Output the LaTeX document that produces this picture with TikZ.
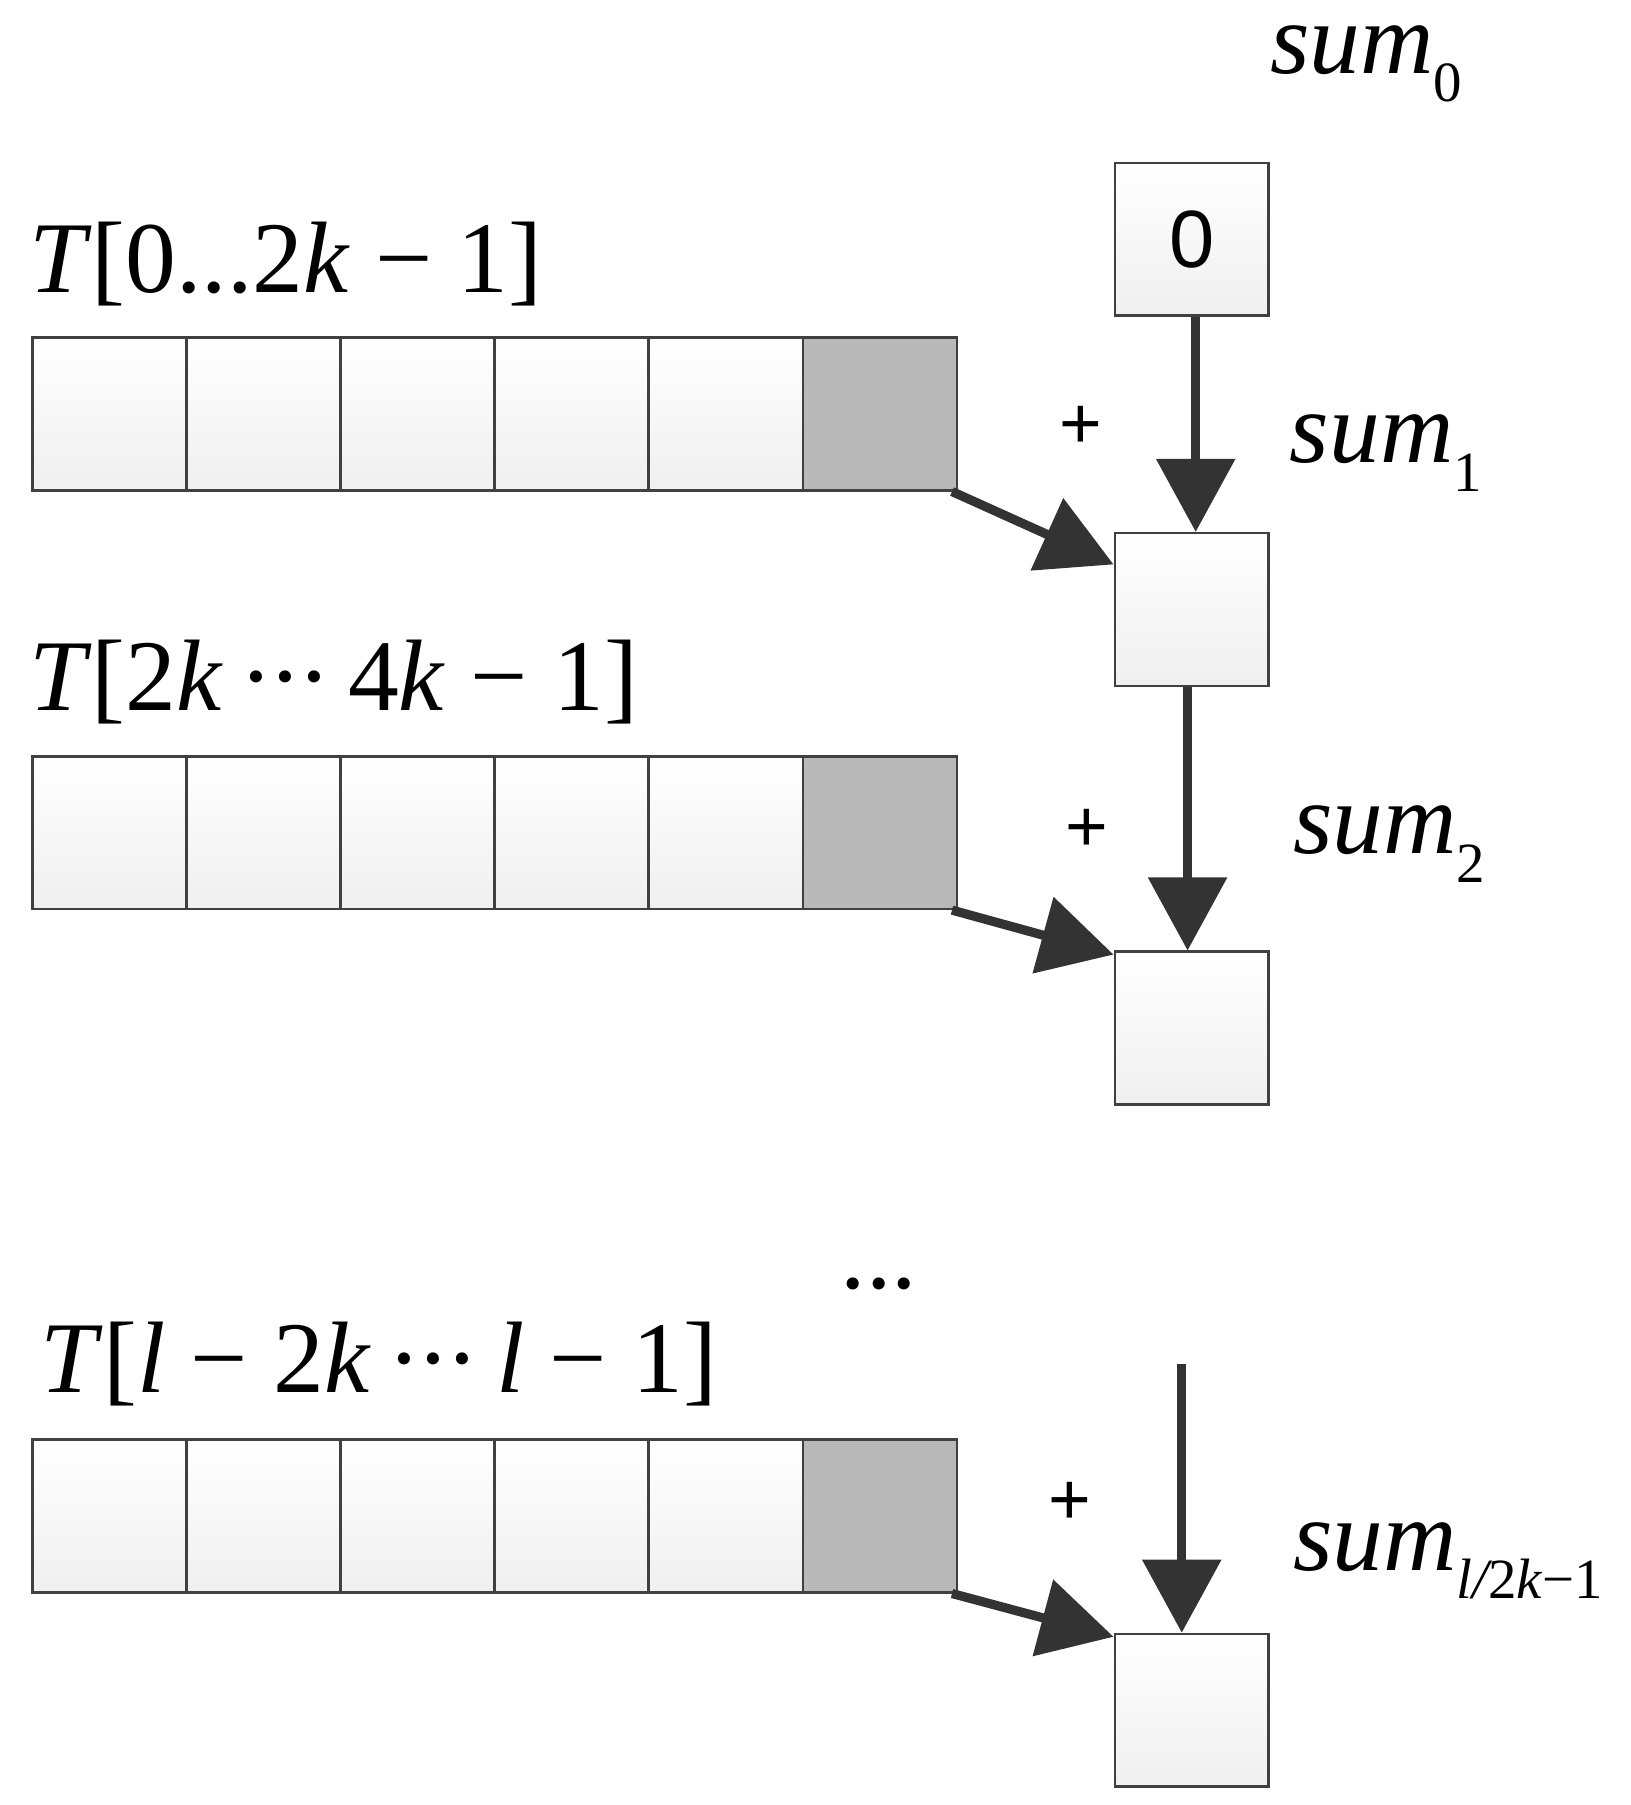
\documentclass[tikz,border=0pt]{standalone}
\usepackage{fontspec}
\setmainfont{Liberation Serif}
\newfontfamily\lsans{Liberation Sans}
\usetikzlibrary{arrows.meta}
\newcommand{\mysub}[1]{\raisebox{-0.28em}{\fontsize{28}{30}\selectfont #1}}
\begin{document}
\begin{tikzpicture}[x=0.02cm,y=-0.02cm,
  cell/.style={draw=black!75,line width=1.2pt,top color=white,bottom color=gray!12,minimum width=2.66cm,minimum height=2.64cm,inner sep=0pt,anchor=north west},
  gcell/.style={cell,top color=gray!55,bottom color=gray!55,fill=gray!55},
  arr/.style={draw=black!80,line width=4.5pt,-{Triangle[length=36pt,width=38pt]}},
  lab/.style={font=\fontsize{50}{56}\selectfont,inner sep=0pt},
  plus/.style={font=\fontsize{36}{40}\selectfont\lsans,inner sep=0pt}]
\useasboundingbox (0,0) rectangle (1410,1561);
% rows
\foreach \r/\y in {a/291,b/653,c/1244}{
  \foreach \i in {0,...,4}{\node[cell] (\r\i) at ({27+133.3*\i},\y) {};}
  \node[gcell] (\r5) at ({27+133.3*5},\y) {};
}
% right boxes
\node[cell] (s0) at (963,140) {\fontsize{40}{44}\selectfont\lsans 0};
\node[cell] (s1) at (963,460) {};
\node[cell] (s2) at (963,822) {};
\node[cell] (s3) at (963,1412) {};
\coordinate (f) at (1022,1180);
% arrows
\draw[arr] ([xshift=2pt]s0.south) -- ([xshift=2pt]s1.north);
\draw[arr] ([xshift=-2pt]s1.south) -- ([xshift=-2pt]s2.north);
\draw[arr] (f) -- (f|-s3.north);
\draw[arr] ([xshift=-3pt]a5.south east) -- ([yshift=-16pt]s1.north west);
\draw[arr] ([xshift=-3pt]b5.south east) -- ([yshift=-2pt]s2.north west);
\draw[arr] ([xshift=-3pt]c5.south east) -- ([yshift=-2pt]s3.north west);
% labels
\node[lab,anchor=west] (l0) at (1098,55) {\itshape sum\mysub{\upshape 0}};
\node[lab,anchor=west] (t1) at (25,228) {\textit{T}[0...2\textit{k} − 1]};
\node[plus] (p1) at (935,370) {+};
\node[lab,anchor=west] (l1) at (1115,392) {\itshape sum\mysub{\upshape 1}};
\node[lab,anchor=west] (t2) at (25,590) {\textit{T}[2\textit{k}\,·\kern-0.05em·\kern-0.05em·\,4\textit{k} − 1]};
\node[plus] (p2) at (940,718) {+};
\node[lab,anchor=west] (l2) at (1118,730) {\itshape sum\mysub{\upshape 2}};
\node[lab] (dd) at (760,1110) {...};
\node[lab,anchor=west] (t3) at (35,1180) {\textit{T}[\textit{l} − 2\textit{k}\,·\kern-0.05em·\kern-0.05em·\,\textit{l} − 1]};
\node[plus] (p3) at (925,1300) {+};
\node[lab,anchor=west] (l3) at (1118,1350) {\itshape sum\mysub{l/\upshape 2\itshape k\upshape −1}};
\end{tikzpicture}
\end{document}
